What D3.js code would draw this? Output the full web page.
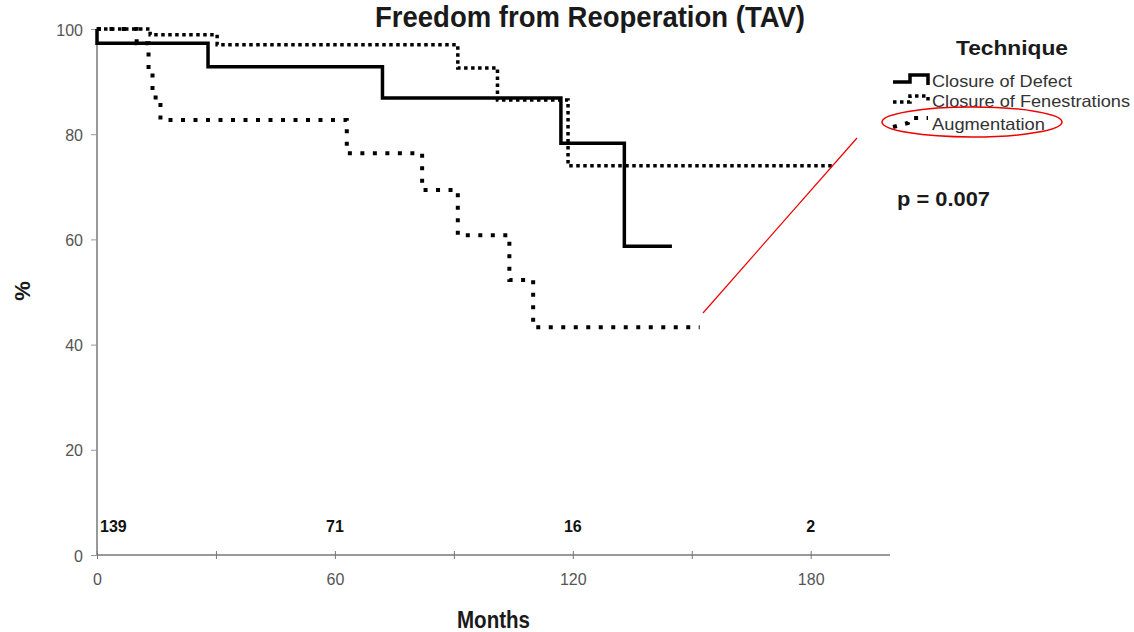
<!DOCTYPE html>
<html>
<head>
<meta charset="utf-8">
<script src="https://cdn.jsdelivr.net/npm/d3@7"></script>
<style>
  body { margin: 0; background: #fff; }
  svg { font-family: "Liberation Sans", Arial, sans-serif; }
</style>
</head>
<body>
<svg width="1134" height="632"></svg>
<script>
// Kaplan-Meier steps (months, % free from reoperation)
const defectMonths = [0, 0, 28, 72, 117, 133, 145];
const defectPct = [100, 97.3, 92.8, 86.9, 78.3, 58.7, 58.7];

const fenMonths = [0, 13.4, 30.3, 91, 101, 118.8, 185.7];
const fenPct = [100, 98.9, 97.0, 92.6, 86.5, 74.0, 74.0];

const augMonths = [0, 10, 13, 14, 16, 63, 82, 91, 104, 110, 152];
const augPct = [100, 97.3, 92, 87, 82.7, 76.4, 69.4, 60.8, 52.3, 43.3, 43.3];

const atRiskMonths = [0, 60, 120, 180];
const atRisk = ["139", "71", "16", "2"];

const xTicks = [0, 30, 60, 90, 120, 150, 180];
const yTicks = [0, 20, 40, 60, 80, 100];

const legendNames = ["Closure of Defect", "Closure of Fenestrations", "Augmentation"];

const svg = d3.select("svg");

const x = d3.scaleLinear().domain([0, 200]).range([97, 890]);
const y = d3.scaleLinear().domain([0, 100]).range([555, 29]);

// the original text is drawn a bit wide, so fix width with textLength
function label(px, py, str, size, len, bold) {
  const t = svg.append("text")
    .attr("x", px).attr("y", py)
    .attr("font-size", size)
    .attr("font-weight", bold ? "bold" : null)
    .attr("fill", bold ? "#1a1a1a" : "#333")
    .text(str);
  if (len) t.attr("textLength", len).attr("lengthAdjust", "spacingAndGlyphs");
  return t;
}

// axes
const xAxis = svg.append("g")
  .attr("transform", "translate(0,555)")
  .call(d3.axisBottom(x).tickValues(xTicks).tickSize(4)
    .tickFormat(d => d % 60 === 0 ? d : ""));
xAxis.select(".domain").attr("d", "M97,0H890").attr("stroke", "#777").attr("stroke-width", 1.5);
xAxis.selectAll(".tick line").attr("y1", -4).attr("y2", 4).attr("stroke", "#777");
xAxis.selectAll(".tick text").attr("y", 30).attr("dy", null)
  .attr("font-size", 16).attr("fill", "#555").attr("font-family", null);

const yAxis = svg.append("g")
  .attr("transform", "translate(97,0)")
  .call(d3.axisLeft(y).tickValues(yTicks).tickSize(6));
yAxis.select(".domain").attr("d", "M0,27V555").attr("stroke", "#777").attr("stroke-width", 1.5);
yAxis.selectAll(".tick line").attr("stroke", "#999");
yAxis.selectAll(".tick text").attr("x", -14).attr("dy", "0.38em")
  .attr("font-size", 16).attr("fill", "#555").attr("font-family", null);

// curves
const line = d3.line().curve(d3.curveStepAfter)
  .x(d => x(d[0])).y(d => y(d[1]));

const series = [
  { t: defectMonths, s: defectPct, w: 3.5, dash: null },
  { t: fenMonths, s: fenPct, w: 3.5, dash: "3.5,3.5" },
  { t: augMonths, s: augPct, w: 4, dash: "4,8.5" }
];

svg.selectAll("path.km")
  .data(series)
  .enter()
  .append("path")
  .attr("class", "km")
  .attr("d", d => line(d.t.map((t, i) => [t, d.s[i]])))
  .attr("fill", "none")
  .attr("stroke", "#000")
  .attr("stroke-width", d => d.w)
  .attr("stroke-dasharray", d => d.dash);

// numbers at risk
svg.selectAll("text.risk")
  .data(atRisk)
  .enter()
  .append("text")
  .attr("class", "risk")
  .attr("x", (d, i) => i === 0 ? x(atRiskMonths[i]) + 3 : x(atRiskMonths[i]))
  .attr("y", 532)
  .attr("text-anchor", (d, i) => i === 0 ? "start" : "middle")
  .attr("font-size", 16)
  .attr("font-weight", "bold")
  .attr("fill", "#111")
  .text(d => d);

// titles
label(375, 27, "Freedom from Reoperation (TAV)", 30, 430, true);
label(457, 628, "Months", 23, 73, true);

svg.append("text")
  .attr("transform", "translate(30,291) rotate(-90)")
  .attr("text-anchor", "middle")
  .attr("font-size", 22).attr("font-weight", "bold").attr("fill", "#1a1a1a")
  .text("%");

// legend
label(956, 55, "Technique", 20, 112, true);

const legY = [87, 107, 130];
const legLen = [140, 198, 113];
const legSym = [
  [[893, -5], [910, -5], [910, -12], [928, -12], [928, -2]],
  [[893, -5], [910, -5], [910, -11], [928, -11], [928, -4]],
  [[893, -3], [908, -7], [910, -12], [928, -12]]
];
const symbol = d3.line();

series.forEach((d, i) => {
  svg.append("path")
    .attr("d", symbol(legSym[i].map(p => [p[0], p[1] + legY[i]])))
    .attr("fill", "none")
    .attr("stroke", "#000")
    .attr("stroke-width", d.w)
    .attr("stroke-dasharray", d.dash);
  label(932, legY[i], legendNames[i], 16.5, legLen[i], false);
});

label(897, 206, "p = 0.007", 21, 93, true);

// red annotation
svg.append("ellipse")
  .attr("cx", 972).attr("cy", 122).attr("rx", 90).attr("ry", 15)
  .attr("fill", "none").attr("stroke", "#e00").attr("stroke-width", 1.5);

svg.append("line")
  .attr("x1", 703).attr("y1", 313).attr("x2", 857).attr("y2", 138)
  .attr("stroke", "#e00").attr("stroke-width", 1.2);
</script>
</body>
</html>
